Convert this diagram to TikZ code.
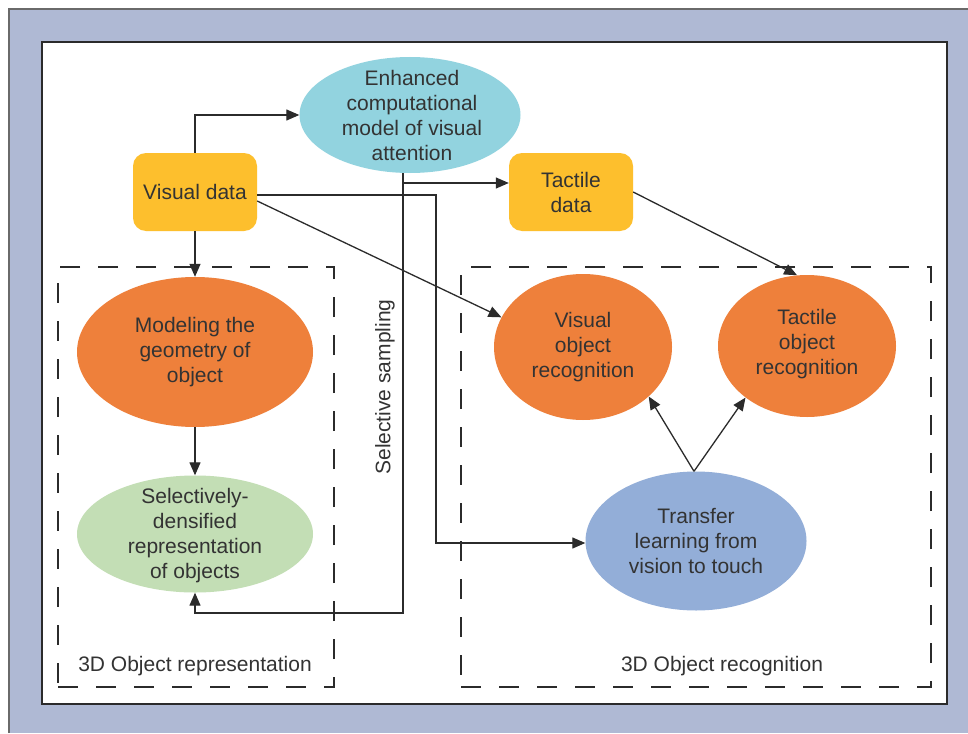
\documentclass[tikz,border=0pt]{standalone}
\usepackage{fontspec}
\setmainfont{Liberation Sans}
\usetikzlibrary{arrows.meta,shapes.geometric,calc}
\definecolor{bgblue}{HTML}{AFB9D4}
\definecolor{boxyellow}{HTML}{FDBF2D}
\definecolor{cyanell}{HTML}{92D3DF}
\definecolor{orng}{HTML}{EE803B}
\definecolor{lgreen}{HTML}{C3DEB5}
\definecolor{lblue}{HTML}{93AED8}
\definecolor{ink}{HTML}{2B2B2B}
\definecolor{txt}{HTML}{333333}
\definecolor{frame}{HTML}{6A6A6A}
\begin{document}
\begin{tikzpicture}[x=1pt,y=-1pt,
  font=\fontsize{21}{25}\selectfont,
  databox/.style={rectangle, rounded corners=13pt, fill=boxyellow, minimum width=124pt, minimum height=78pt, align=center, text=txt, inner sep=0pt},
  ell/.style={ellipse, inner sep=0pt},
  lbl/.style={align=center, text=txt, inner sep=0pt},
  conn/.style={draw=ink, line width=1.3pt, -{Triangle[length=13pt,width=11pt]}},
  groupbox/.style={draw=ink, line width=1.3pt, dash pattern=on 20pt off 18pt, inner sep=0pt}]
\useasboundingbox (0,0) rectangle (968,733);
\fill[white] (0,0) rectangle (968,733);
\fill[bgblue] (9,9) rectangle (968,733);
\draw[frame, line width=1.5pt] (9,733) -- (9,9) -- (968,9);
\filldraw[fill=white, draw=ink, line width=1.3pt] (42,42) rectangle (947,704);

% group boxes
\node[groupbox, minimum width=276pt, minimum height=420pt] (g1) at (196,477) {};
\node[groupbox, minimum width=470pt, minimum height=420pt] (g2) at (696,477) {};
\node[lbl] (g1l) at (195,666) {3D Object representation};
\node[lbl] (g2l) at (722,666) {3D Object recognition};

% nodes
\node[databox] (vis) at (195,192) {Visual data};
\node[databox] (tac) at (571,192) {Tactile\\data};
\node[ell, fill=cyanell, minimum width=221pt, minimum height=116pt] (enh) at (410,115) {};
\node[lbl] (enhT) at (412,115) {Enhanced\\computational\\model of visual\\attention};
\node[ell, fill=orng, minimum width=236pt, minimum height=150pt] (mod) at (195,352) {};
\node[lbl] (modT) at (mod.center) {Modeling the\\geometry of\\object};
\node[ell, fill=lgreen, minimum width=236pt, minimum height=117pt] (sel) at (195,534) {};
\node[lbl] (selT) at (195,536) {Selectively-\\densified\\representation\\of objects};
\node[ell, fill=orng, minimum width=178pt, minimum height=146pt] (vobj) at (583,347) {};
\node[lbl] (vobjT) at (vobj.center) {Visual\\object\\recognition};
\node[ell, fill=orng, minimum width=178pt, minimum height=142pt] (tobj) at (807,346) {};
\node[lbl] (tobjT) at (807,344) {Tactile\\object\\recognition};
\node[ell, fill=lblue, minimum width=221pt, minimum height=139pt] (tra) at (696,541) {};
\node[lbl] (traT) at (tra.center) {Transfer\\learning from\\vision to touch};
\node[lbl, rotate=90] (ssT) at (385,387) {Selective sampling};

% helper coordinates
\coordinate (tap) at ([xshift=-7pt]enh.south);
\coordinate (corner) at (403,613);
\coordinate (br) at (403,183);
\coordinate (v1) at ([yshift=-3pt]vis.east);
\coordinate (v2) at ([yshift=-9pt]vis.east);
\coordinate (c2) at (436,543);
\coordinate (tt) at ([xshift=-2pt]tra.north);

% connectors
\draw[conn] (vis.north) |- (enh.west);
\draw[conn] (vis.south) -- (mod.north);
\draw[conn] (mod.south) -- (sel.north);
\draw[conn] (tap) -- (corner) -| (sel.south);
\draw[conn] (br) -- (br -| tac.west);
\draw[conn] (v1) -| (c2) -- (c2 -| tra.west);
\draw[conn] (v2) -- (vobj.160);
\draw[conn] (tac.east) -- (tobj.98);
\draw[conn] (tt) -- (vobj.-37.6);
\draw[conn] (tt) -- (tobj.220);
\end{tikzpicture}
\end{document}
